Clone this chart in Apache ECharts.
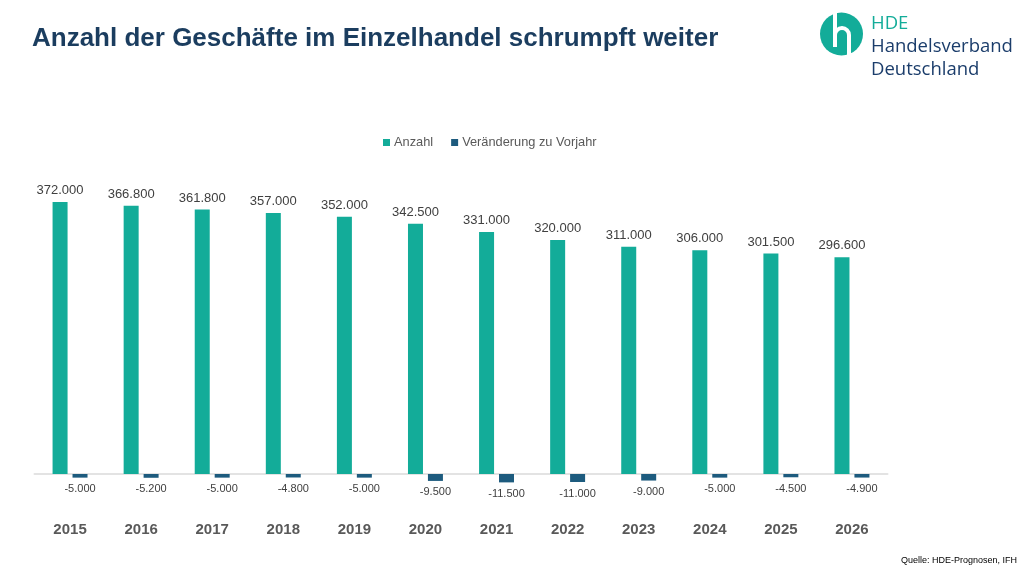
<!DOCTYPE html>
<html>
<head>
<meta charset="utf-8">
<script src="https://cdn.jsdelivr.net/npm/echarts@6/dist/echarts.min.js"></script>
<style>
  html, body { margin: 0; padding: 0; background: #fff; }
  #chart { width: 1024px; height: 576px; }
</style>
</head>
<body>
<div id="chart"></div>
<script>
// Jahre und Werte
var years = ['2015', '2016', '2017', '2018', '2019', '2020', '2021', '2022', '2023', '2024', '2025', '2026'];
var anzahl = [372000, 366800, 361800, 357000, 352000, 342500, 331000, 320000, 311000, 306000, 301500, 296600];
var veraenderung = [-5000, -5200, -5000, -4800, -5000, -9500, -11500, -11000, -9000, -5000, -4500, -4900];

// Tausenderpunkt wie im Original
function deFormat(v) {
  var neg = v < 0;
  var s = String(Math.abs(v));
  s = s.replace(/\B(?=(\d{3})+(?!\d))/g, '.');
  return (neg ? '-' : '') + s;
}

var myChart = echarts.init(document.getElementById('chart'));
var option = {
  backgroundColor: '#ffffff',
  textStyle: { fontFamily: 'Liberation Sans, Arial, sans-serif' },
  legend: {
    left: 378,
    top: 131,
    itemWidth: 7,
    itemHeight: 7,
    itemGap: 18,
    icon: 'rect',
    textStyle: { color: '#595959', fontSize: 12.8, padding: [0, 0, 0, -1] },
    data: ['Anzahl', 'Veränderung zu Vorjahr']
  },
  grid: { left: 34.5, right: 136.5, top: 181.6, bottom: 87.4 },
  xAxis: {
    type: 'category',
    data: years,
    axisLine: { show: true, lineStyle: { color: '#e3e3e3', width: 2 } },
    axisTick: { show: false },
    axisLabel: { margin: 34, color: '#595959', fontSize: 15, fontWeight: 'bold' }
  },
  yAxis: {
    type: 'value',
    min: -20000,
    max: 400000,
    show: false,
    splitLine: { show: false }
  },
  series: [
    {
      name: 'Anzahl',
      type: 'bar',
      barWidth: 15,
      barGap: '33%',
      itemStyle: { color: '#13ac99' },
      label: {
        show: true,
        position: 'top',
        distance: 5,
        color: '#404040',
        fontSize: 13,
        formatter: function (p) { return deFormat(p.value); }
      },
      data: anzahl
    },
    {
      name: 'Veränderung zu Vorjahr',
      type: 'bar',
      barWidth: 15,
      itemStyle: { color: '#1d5b7e' },
      label: {
        show: true,
        position: 'bottom',
        distance: 6,
        color: '#404040',
        fontSize: 11,
        formatter: function (p) { return deFormat(p.value); }
      },
      data: veraenderung
    }
  ],
  graphic: [
    {
      type: 'text',
      left: 32,
      top: 26,
      style: {
        text: 'Anzahl der Geschäfte im Einzelhandel schrumpft weiter',
        fill: '#1b3d5f',
        fontSize: 26,
        fontWeight: 'bold',
        fontFamily: 'Liberation Sans, Arial, sans-serif'
      }
    },
    // Logo
    {
      type: 'circle',
      shape: { cx: 841.5, cy: 34, r: 21.5 },
      style: { fill: '#13ac99' }
    },
    {
      type: 'line',
      shape: { x1: 835, y1: 12, x2: 835, y2: 47 },
      style: { stroke: '#ffffff', lineWidth: 4 }
    },
    {
      type: 'arc',
      shape: { cx: 842, cy: 35, r: 7, startAngle: Math.PI, endAngle: 2 * Math.PI },
      style: { stroke: '#ffffff', lineWidth: 4, fill: null }
    },
    {
      type: 'line',
      shape: { x1: 849, y1: 35, x2: 849, y2: 56 },
      style: { stroke: '#ffffff', lineWidth: 4 }
    },
    {
      type: 'text',
      left: 871,
      top: 14,
      style: { text: 'HDE', fill: '#13ac99', fontSize: 18.5, fontFamily: 'Open Sans, Noto Sans, sans-serif' }
    },
    {
      type: 'text',
      left: 871,
      top: 37,
      style: { text: 'Handelsverband', fill: '#1b3d6b', fontSize: 18.5, fontFamily: 'Open Sans, Noto Sans, sans-serif' }
    },
    {
      type: 'text',
      left: 871,
      top: 60,
      style: { text: 'Deutschland', fill: '#1b3d6b', fontSize: 18.5, fontFamily: 'Open Sans, Noto Sans, sans-serif' }
    },
    {
      type: 'text',
      right: 7,
      top: 556,
      style: { text: 'Quelle: HDE-Prognosen, IFH', fill: '#000000', fontSize: 9, fontFamily: 'Liberation Sans, Arial, sans-serif' }
    }
  ]
};
myChart.setOption(option);
</script>
</body>
</html>
